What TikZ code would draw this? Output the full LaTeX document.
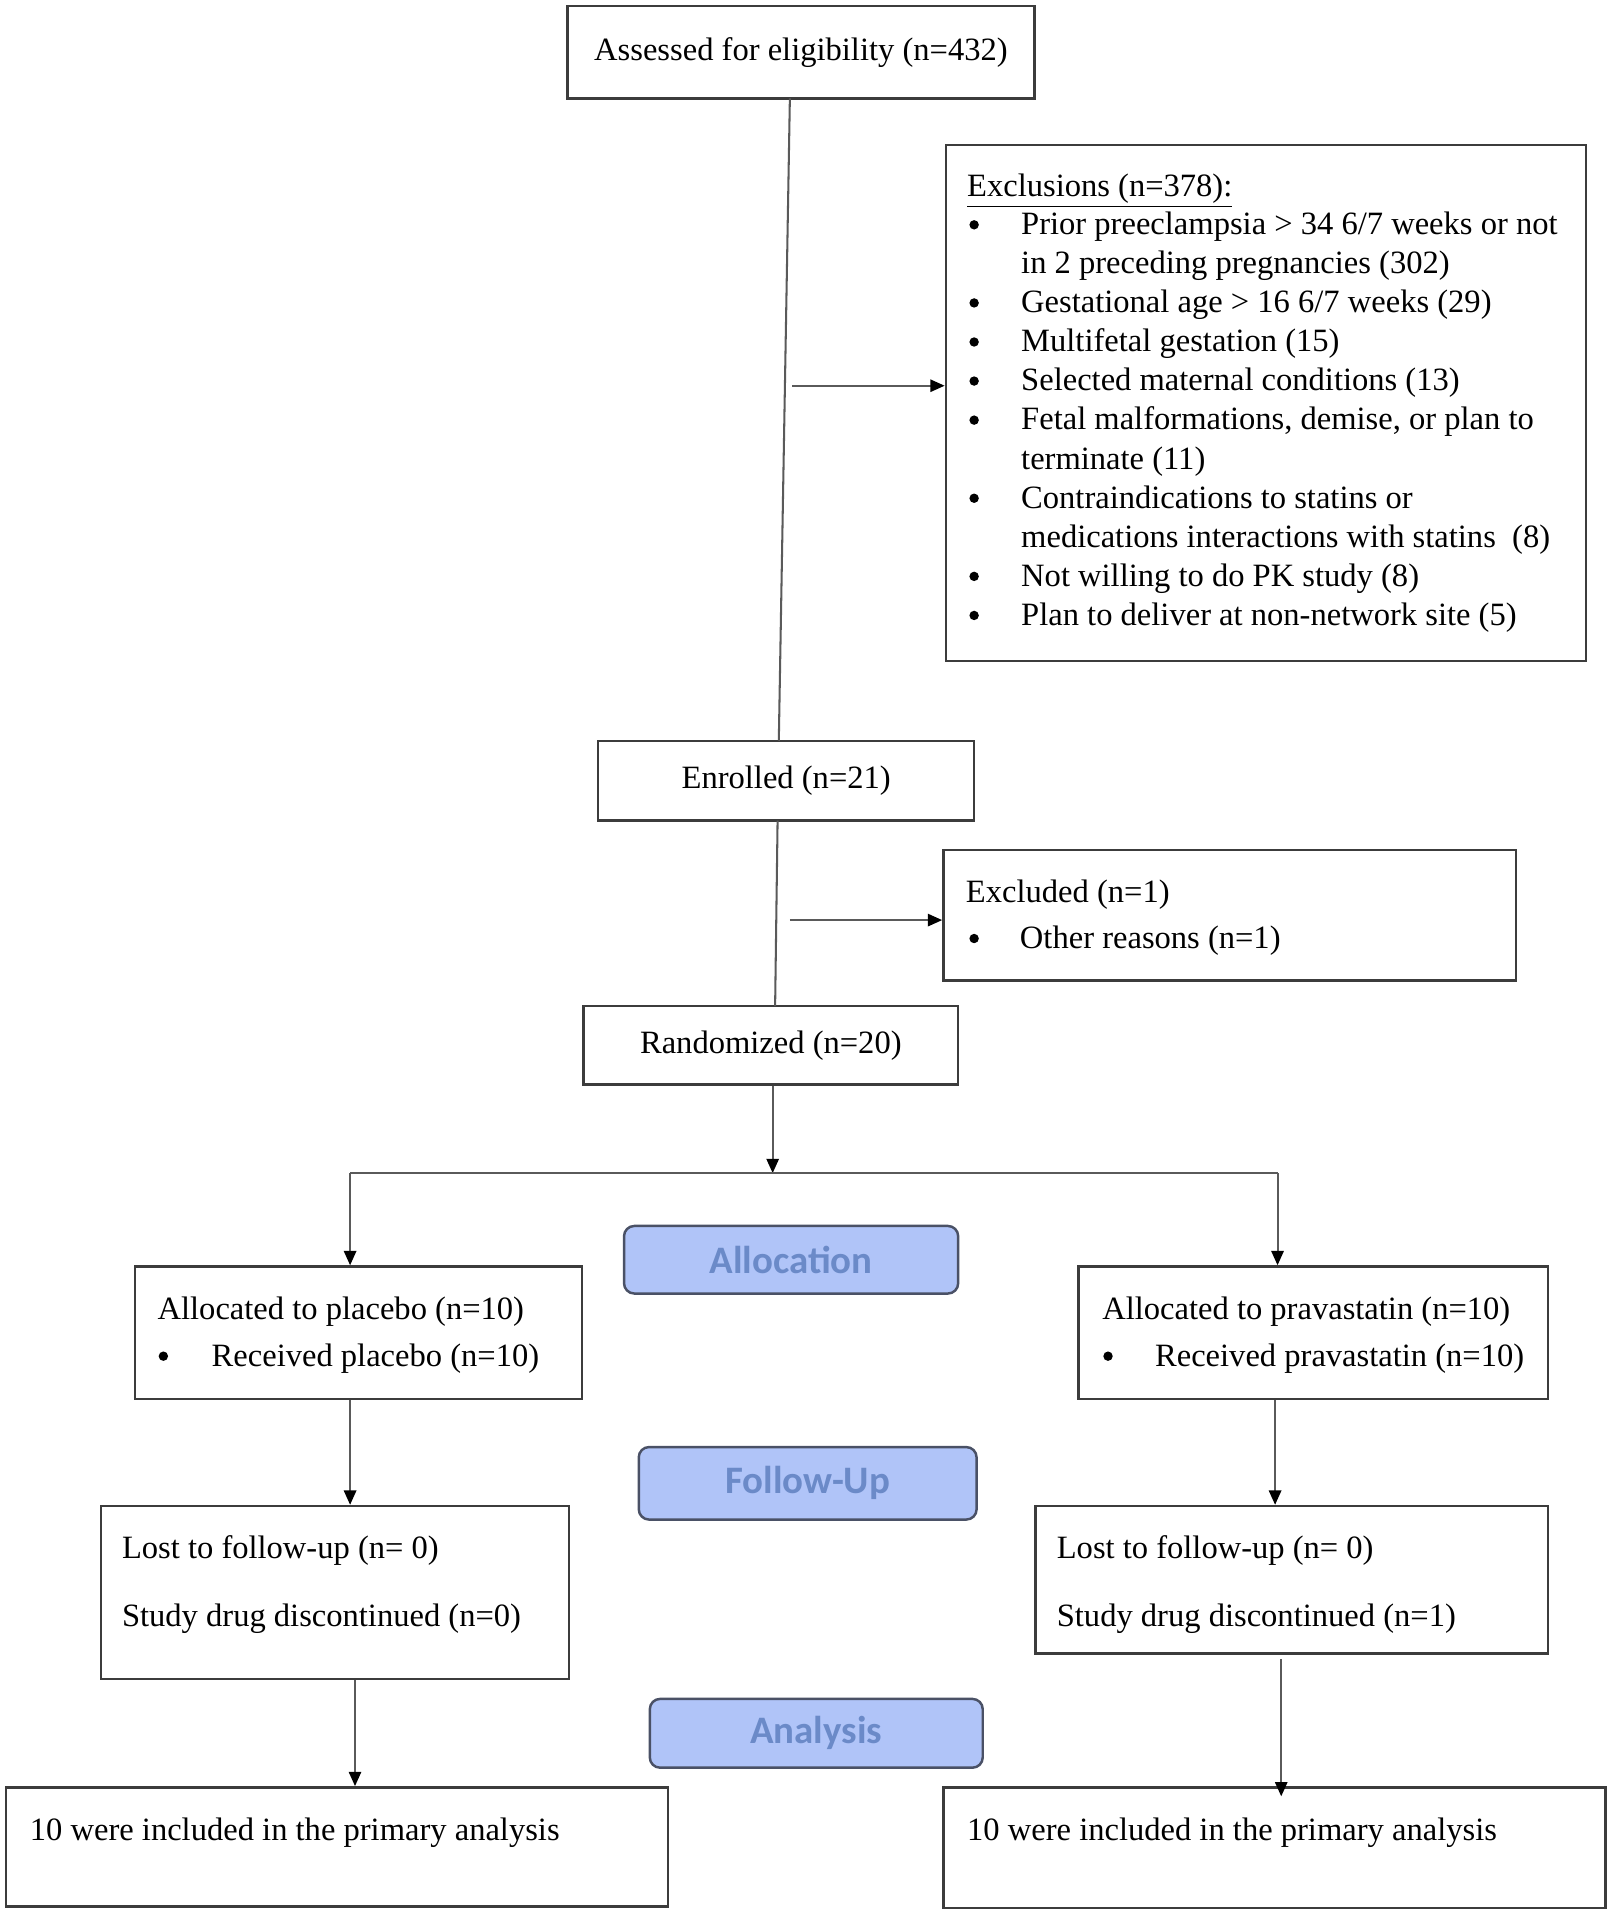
\documentclass[tikz,border=0pt]{standalone}
\usepackage{fontspec}
\setmainfont{Liberation Serif}
\newfontfamily\labfont{Carlito}
\usetikzlibrary{arrows.meta,calc}
\definecolor{boxline}{HTML}{3C3C3C}
\definecolor{conn}{HTML}{5A5A5A}
\definecolor{stagefill}{HTML}{B0C4F8}
\definecolor{stageline}{HTML}{4A5166}
\definecolor{stagetext}{HTML}{6B8AC8}
\newcommand{\tline}[4]{\node[anchor=base west] (#1) at (#2,#3) {#4};}
\newcommand{\bdot}[3]{\node[bdotstyle] (#1) at (#2,#3-8) {};}
\begin{document}
\begin{tikzpicture}[x=0.6pt,y=-0.6pt,
  every node/.style={font=\fontsize{15.9}{19.1}\selectfont, inner sep=0pt},
  box/.style 2 args={draw=boxline, line width=1.2pt, fill=white,
     minimum width={#1*0.6pt}, minimum height={#2*0.6pt}, inner sep=0pt},
  stage/.style 2 args={draw=stageline, line width=1.2pt, fill=stagefill,
     rounded corners=5pt, text=stagetext,
     font=\labfont\bfseries\fontsize{19}{22}\selectfont,
     minimum width={#1*0.6pt}, minimum height={#2*0.6pt}, inner sep=0pt},
  bdotstyle/.style={circle, fill=black, draw=none, minimum size=4.6pt, inner sep=0pt},
  plain/.style={draw=conn, line width=1pt},
  arr/.style={draw=conn, line width=1pt, -{Triangle[length=7pt,width=6pt,color=black]}}]
\useasboundingbox (0,0) rectangle (1319.7,1563);

% boxes
\node[box={380}{75}] (assess) at (652,42.5) {Assessed for eligibility (n=432)};
\node[box={521}{420}] (excl) at (1030.5,328) {};
\node[box={306}{65}] (enrol) at (640,635.5) {Enrolled (n=21)};
\node[box={466}{106}] (excd) at (1001,745) {};
\node[box={305}{64}] (rand) at (627.5,851) {Randomized (n=20)};
\node[stage={272}{55}] (alloc) at (644,1025.5) {Allocation};
\node[box={364}{108}] (placebo) at (292,1085) {};
\node[box={382}{108}] (prava) at (1069,1085) {};
\node[stage={275}{59}] (follow) at (657.5,1207.5) {Follow-Up};
\node[box={381}{141}] (lostL) at (272.5,1296.5) {};
\node[box={417}{120}] (lostR) at (1051.5,1286) {};
\node[stage={271}{56}] (anal) at (664.5,1411) {Analysis};
\node[box={539}{97}] (botL) at (274.5,1503.5) {};
\node[box={539}{98}] (botR) at (1037.5,1504) {};

% exclusions text
\tline{exh}{787}{160}{\underline{Exclusions (n=378):}}
\bdot{eb1}{793}{191}   \tline{ex1}{831}{191}{Prior preeclampsia > 34 6/7 weeks or not}
                       \tline{ex1b}{831}{222.8}{in 2 preceding pregnancies (302)}
\bdot{eb2}{793}{254.6} \tline{ex2}{831}{254.6}{Gestational age > 16 6/7 weeks (29)}
\bdot{eb3}{793}{286.4} \tline{ex3}{831}{286.4}{Multifetal gestation (15)}
\bdot{eb4}{793}{318.2} \tline{ex4}{831}{318.2}{Selected maternal conditions (13)}
\bdot{eb5}{793}{350}   \tline{ex5}{831}{350}{Fetal malformations, demise, or plan to}
                       \tline{ex5b}{831}{381.8}{terminate (11)}
\bdot{eb6}{793}{413.6} \tline{ex6}{831}{413.6}{Contraindications to statins or}
                       \tline{ex6b}{831}{445.4}{medications interactions with statins\ \ (8)}
\bdot{eb7}{793}{477.2} \tline{ex7}{831}{477.2}{Not willing to do PK study (8)}
\bdot{eb8}{793}{509}   \tline{ex8}{831}{509}{Plan to deliver at non-network site (5)}

% excluded text
\tline{xd1}{786}{735}{Excluded (n=1)}
\bdot{xdb}{793}{772} \tline{xd2}{830}{772}{Other reasons (n=1)}

% allocation texts
\tline{pl1}{128}{1074}{Allocated to placebo (n=10)}
\bdot{plb}{133}{1112} \tline{pl2}{172}{1112}{Received placebo (n=10)}
\tline{pr1}{897}{1074}{Allocated to pravastatin (n=10)}
\bdot{prb}{902}{1112} \tline{pr2}{940}{1112}{Received pravastatin (n=10)}

% follow-up texts
\tline{ll1}{99}{1269}{Lost to follow-up (n= 0)}
\tline{ll2}{99}{1324}{Study drug discontinued (n=0)}
\tline{lr1}{860}{1269}{Lost to follow-up (n= 0)}
\tline{lr2}{860}{1324}{Study drug discontinued (n=1)}

% analysis texts
\tline{bl}{24}{1498}{10 were included in the primary analysis}
\tline{br}{787}{1498}{10 were included in the primary analysis}

% connectors
\coordinate (a1) at (643,80);
\coordinate (e1) at (634,603);
\draw[plain] (a1) -- (e1);
\coordinate (x1) at (645,314);
\draw[arr] (x1) -- (excl.west |- x1);
\coordinate (e2) at (633,668);
\coordinate (r1) at (631,819);
\draw[plain] (e2) -- (r1);
\coordinate (x2) at (643,749);
\draw[arr] (x2) -- (excd.west |- x2);
\coordinate (sp) at (629,955);
\draw[arr] (rand.south -| sp) -- (sp);
\coordinate (lsp) at (285,955);
\coordinate (rsp) at (1040,955);
\draw[plain] (lsp) -- (rsp);
\draw[arr] (lsp) -- (placebo.north -| lsp);
\draw[arr] (rsp) -- (prava.north -| rsp);
\draw[arr] (placebo.south -| lsp) -- (lostL.north -| lsp);
\coordinate (rx) at (1038,0);
\draw[arr] (prava.south -| rx) -- (lostR.north -| rx);
\coordinate (lx2) at (289,0);
\draw[arr] (lostL.south -| lx2) -- (botL.north -| lx2);
\coordinate (rx2) at (1043,0);
\draw[arr, shorten <=2pt, shorten >=-5pt] (lostR.south -| rx2) -- (botR.north -| rx2);
\end{tikzpicture}
\end{document}
